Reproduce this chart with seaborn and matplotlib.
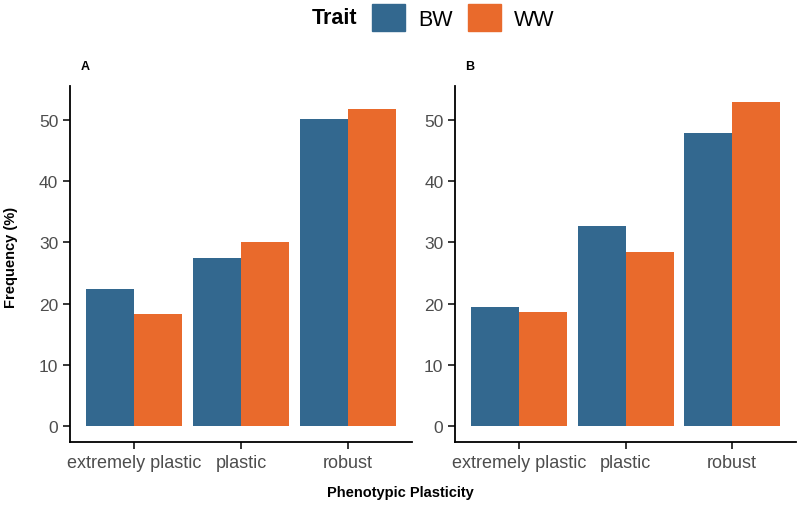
import pandas as pd
import matplotlib.pyplot as plt
import matplotlib.patches as mpatches
import seaborn as sns

# ==========================================
#   DATA
# ==========================================
categories = ["extremely plastic", "plastic", "robust"]
traits = ["BW", "WW"]
panel_a_bw = [22.4, 27.4, 50.2]
panel_a_ww = [18.3, 30.0, 51.8]
panel_b_bw = [19.5, 32.7, 47.9]
panel_b_ww = [18.7, 28.4, 52.9]

colors = {"BW": "#33688F", "WW": "#E96A2C"}


def make_df(bw, ww):
    return pd.DataFrame({
        "Plasticity": categories * 2,
        "Trait": ["BW"] * 3 + ["WW"] * 3,
        "Frequency": bw + ww,
    })


df_a = make_df(panel_a_bw, panel_a_ww)
df_b = make_df(panel_b_bw, panel_b_ww)

# ==========================================
#   STYLE
# ==========================================
sns.set_style("white")
plt.rcParams["font.family"] = ["Liberation Sans", "DejaVu Sans"]
plt.rcParams["text.color"] = "black"

fig = plt.figure(figsize=(8, 5.1), dpi=100)
ax_a = fig.add_axes([0.0875, 0.131, 0.4275, 0.698])
ax_b = fig.add_axes([0.569, 0.131, 0.426, 0.698])

ymax = max(panel_a_bw + panel_a_ww + panel_b_bw + panel_b_ww)

for ax, df, lab in [(ax_a, df_a, "A"), (ax_b, df_b, "B")]:
    sns.barplot(data=df, x="Plasticity", y="Frequency", hue="Trait",
                hue_order=traits, palette=colors, width=0.9, gap=0,
                saturation=1, linewidth=0, ax=ax, legend=False)
    ax.set_xlim(-0.6, 2.6)
    ax.set_ylim(-0.05 * ymax, ymax * 1.05)
    ax.set_yticks([0, 10, 20, 30, 40, 50])
    ax.set_xlabel("")
    ax.set_ylabel("")
    for s in ["top", "right"]:
        ax.spines[s].set_visible(False)
    for s in ["left", "bottom"]:
        ax.spines[s].set_color("black")
        ax.spines[s].set_linewidth(1.3)
    ax.tick_params(axis="both", which="both", length=5, width=1.1,
                   color="black", labelsize=12.5, labelcolor="#4D4D4D",
                   left=True, bottom=True)
    ax.tick_params(axis="x", labelsize=13)
    ax.text(0.03, 1.04, lab, transform=ax.transAxes, fontsize=9,
            fontweight="bold", ha="left", va="bottom", color="black")

fig.text(0.014, 0.495, "Frequency (%)", rotation=90, fontsize=10.5,
         fontweight="bold", ha="center", va="center", color="black")
fig.text(0.5, 0.033, "Phenotypic Plasticity", fontsize=10.5,
         fontweight="bold", ha="center", va="center", color="black")

# ==========================================
#   LEGEND
# ==========================================
fig.text(0.39, 0.963, "Trait", fontsize=15.5, fontweight="bold",
         ha="left", va="center", color="black")
handles = [mpatches.Patch(color=colors[t], label=t) for t in traits]
leg = fig.legend(handles=handles, loc="center left",
                 bbox_to_anchor=(0.465, 0.963), ncol=2, frameon=False,
                 fontsize=15.5, handlelength=1.55, handleheight=1.55,
                 handletextpad=0.6, columnspacing=0.7,
                 borderaxespad=0, borderpad=0)
for t in leg.get_texts():
    t.set_color("black")

plt.savefig("out.png", dpi=100)
